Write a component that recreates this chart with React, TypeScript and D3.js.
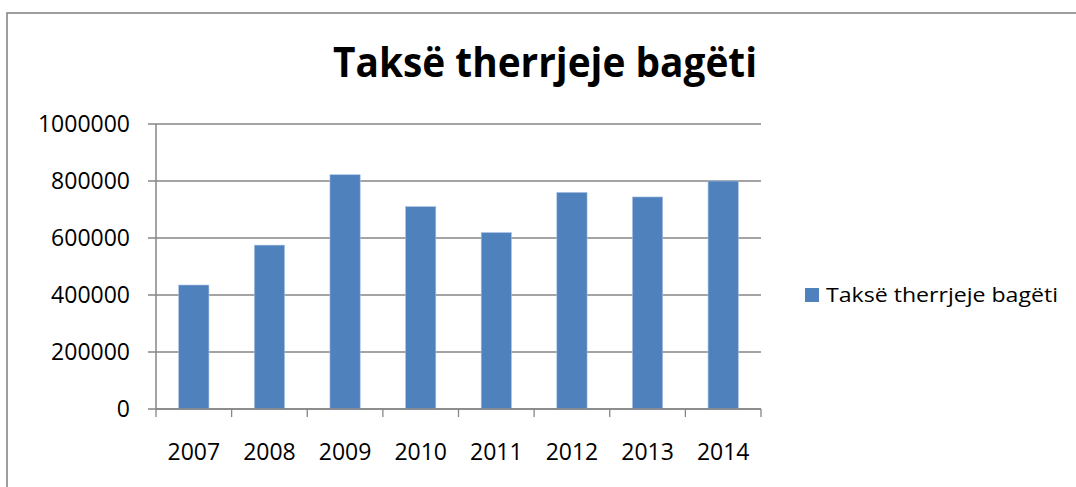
import React from 'react';
import * as d3 from 'd3';

// data
const years = ['2007', '2008', '2009', '2010', '2011', '2012', '2013', '2014'];
const values = [435000, 575000, 822000, 710000, 619000, 760000, 744000, 800000];
const yTicks = [0, 200000, 400000, 600000, 800000, 1000000];
const title = 'Taksë therrjeje bagëti';
const seriesName = 'Taksë therrjeje bagëti';

const W = 1076, H = 487;
const plot = { left: 156, right: 761, top: 124, bottom: 409 };
const gray = '#868686';
const blue = '#4F81BD';
const font = '"Open Sans", "Liberation Sans", sans-serif';

export default function App() {
  const x = d3.scaleBand<string>().domain(years).range([plot.left, plot.right]).padding(0);
  const y = d3.scaleLinear().domain([0, 1000000]).range([plot.bottom, plot.top]);
  const bw = x.bandwidth();
  const barW = bw * 0.4;

  // category boundaries for the little tick marks under the x axis
  const bounds = years.map(d => x(d) as number).concat([plot.right]);

  return (
    <svg width={W} height={H} style={{ position: 'absolute', left: 0, top: 0, background: '#fff' }}>
      {/* chart frame, runs off the right and bottom of the window */}
      <rect x={7} y={13} width={W + 20} height={H + 20} fill="#fff" stroke={gray} strokeWidth={1.6} />

      <text x={545} y={77} textAnchor="middle" fontFamily={font} fontWeight="bold" fontSize={42}
        textLength={424} lengthAdjust="spacingAndGlyphs" fill="#000">{title}</text>

      {/* gridlines + y ticks */}
      {yTicks.map(t => (
        <g key={t}>
          <line x1={plot.left - 8} x2={plot.right} y1={y(t)} y2={y(t)} stroke={gray} strokeWidth={1.3} />
          <text x={130} y={y(t)} dy="0.35em" textAnchor="end" fontFamily={font} fontSize={23} fill="#000">{t}</text>
        </g>
      ))}

      {/* bars */}
      {years.map((yr, i) => (
        <rect key={yr} x={(x(yr) as number) + (bw - barW) / 2} y={y(values[i])}
          width={barW} height={y(0) - y(values[i])} fill={blue} stroke="#a9c1e0" strokeWidth={0.6} />
      ))}

      {/* axes */}
      <line x1={plot.left} x2={plot.left} y1={plot.top} y2={plot.bottom} stroke={gray} strokeWidth={1.5} />
      <line x1={plot.left} x2={plot.right} y1={plot.bottom} y2={plot.bottom} stroke={gray} strokeWidth={1.5} />
      {bounds.map((b, i) => (
        <line key={i} x1={b} x2={b} y1={plot.bottom} y2={plot.bottom + 8} stroke={gray} strokeWidth={1.3} />
      ))}
      {years.map(yr => (
        <text key={yr} x={(x(yr) as number) + bw / 2} y={460} textAnchor="middle" fontFamily={font} fontSize={23} fill="#000">{yr}</text>
      ))}

      {/* legend */}
      <rect x={805} y={288} width={14} height={14} fill={blue} />
      <text x={826} y={302} fontFamily={font} fontSize={20} textLength={232} lengthAdjust="spacingAndGlyphs" fill="#000">{seriesName}</text>
    </svg>
  );
}
